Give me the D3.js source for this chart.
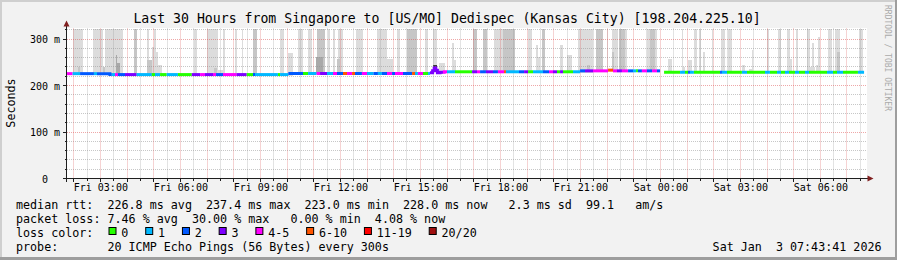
<!DOCTYPE html>
<html><head><meta charset="utf-8">
<script src="https://cdn.jsdelivr.net/npm/d3@7"></script>
<style>
html,body{margin:0;padding:0;background:#f2f2f2;}
svg{display:block;}
text{font-family:"DejaVu Sans Mono",monospace;fill:#000;}
</style></head><body>
<svg id="c" width="897" height="260"></svg>
<script>
// ---------------- DATA ----------------
const titleText = "Last 30 Hours from Singapore to [US/MO] Dedispec (Kansas City) [198.204.225.10]";
const yAxisTitle = "Seconds";
const sideText = "RRDTOOL / TOBI OETIKER";
const timeDomain = [1.75, 31.75];          // hours since Fri 00:00
const dataEnd = 31.64;
const yDomain = [0, 322.6];                // ms
const yMajorTicks = [0, 100, 200, 300];
const yTickLabels = ["  0", "100 m", "200 m", "300 m"];
const xLabelHours = [3, 6, 9, 12, 15, 18, 21, 24, 27, 30];
const xLabels = ["Fri 03:00","Fri 06:00","Fri 09:00","Fri 12:00","Fri 15:00","Fri 18:00","Fri 21:00","Sat 00:00","Sat 03:00","Sat 06:00"];
const lossLevels = [0, 1, 2, 3, 5, 10, 19, 20];
const lossNames = ["0", "1", "2", "3", "4-5", "6-10", "11-19", "20/20"];
const lossColors = ["#26ff00", "#00b8ff", "#0059ff", "#7e00ff", "#ff00ff", "#ff5500", "#ff0000", "#a01010"];
const smokeShades = ["#dcdcdc", "#c6c6c6", "#a9a9a9", "#3a3a3a"];

// median rtt level changes: [hour, ms]
const medianLevels = [[1.75,225.5],[3.36,223.5],[10.05,225.8],[15.36,227.5],[15.46,232],[15.52,237.4],[15.58,233],[15.64,227.5],[15.74,228.5],[15.90,229.5],[20.99,231.5],[22.04,233],[22.225,231.5],[24.14,228.5]];

// loss runs: [start hour, lost pings of 20] (null = no data)
const lossRuns = [[1.75,5],[1.96,1],[2.24,2],[2.76,1],[2.875,2],[3.43,1],[3.55,5],[3.66,2],[3.925,3],[4.36,1],[4.93,0],[5.05,1],[5.24,0],[5.49,1],[5.91,0],[6.43,3],[6.74,5],[6.925,3],[7.225,5],[7.34,2],[7.60,5],[8.11,3],[8.49,0],[8.725,2],[8.80,1],[9.66,0],[9.74,1],[10.05,2],[10.60,0],[10.79,1],[11.11,5],[11.24,3],[11.50,1],[11.725,5],[11.875,2],[12.10,8],[12.25,5],[12.44,8],[12.55,2],[12.81,5],[13.00,1],[13.24,2],[13.41,1],[13.56,2],[13.75,5],[13.94,2],[14.05,5],[14.35,2],[14.69,8],[14.80,1],[14.91,5],[15.10,0],[15.29,1],[15.36,3],[15.85,5],[16.00,1],[16.30,0],[16.94,3],[17.125,5],[17.24,2],[17.46,3],[17.725,2],[17.91,5],[18.14,8],[18.21,1],[18.70,2],[18.89,3],[19.04,0],[19.225,1],[19.60,2],[19.825,5],[19.975,3],[20.125,0],[20.24,3],[20.35,0],[20.725,1],[20.99,2],[21.175,3],[21.475,5],[22.04,8],[22.225,5],[22.375,3],[22.56,5],[22.79,2],[22.975,1],[23.09,0],[23.16,2],[23.31,5],[23.50,2],[23.69,5],[23.875,2],[23.99,null],[24.14,0],[24.74,1],[24.925,0],[25.04,2],[25.11,1],[25.26,0],[26.24,2],[26.31,1],[26.50,0],[27.06,1],[27.25,0],[27.925,1],[28.11,0],[28.375,1],[28.525,0],[28.675,1],[28.825,0],[29.05,1],[29.20,0],[29.425,1],[29.575,0],[30.25,1],[30.475,0],[30.625,1],[30.85,0],[31.41,1]];

// smoke bars: [start hour, end hour, top ms, shade]
const smokeBars = [
[1.96,2.34,400,0],[2.16,2.24,240,1],[2.74,3.11,400,0],[3.09,3.175,240,1],[3.175,3.86,400,0],[3.59,3.64,266,2],[3.64,3.74,249,2],
[4.26,4.39,400,1],[4.76,4.84,400,0],[4.76,4.93,255,1],[4.93,5.01,283,0],[5.01,5.09,400,0],[5.09,5.18,273,0],[5.18,5.30,244,0],
[6.51,6.64,400,0],[6.99,7.42,400,0],[7.26,7.36,238,1],[7.36,7.675,233,0],[7.61,7.675,400,0],[8.05,8.11,400,0],[8.30,8.36,400,0],[8.74,8.86,400,1],
[9.74,9.89,400,0],[10.04,10.225,269,0],[10.41,10.60,400,0],[10.79,10.94,400,0],[11.11,11.425,400,1],[11.09,11.35,262,2],[11.54,11.61,400,0],[11.725,11.80,400,0],
[11.875,11.99,258,1],[11.91,12.10,400,0],[12.59,12.85,400,0],[13.36,13.74,400,0],[13.74,13.99,258,0],[14.125,14.24,400,0],[14.49,14.86,400,1],
[15.175,15.29,400,0],[15.475,15.625,400,0],[15.46,15.62,244,3],[15.70,15.925,248,0],[16.18,16.26,291,0],[16.24,16.34,255,0],[16.96,17.11,400,1],[17.34,17.49,400,1],
[17.76,18.475,400,0],[18.09,18.55,400,1],[19.04,19.175,400,0],[19.34,19.41,287,0],[19.41,19.49,262,0],[19.55,19.675,400,1],[20.24,20.34,287,0],[20.49,20.675,266,0],
[20.91,21.475,400,0],[21.24,21.36,244,1],[21.575,21.86,400,1],[21.99,22.05,400,0],[22.175,22.425,400,0],[22.20,22.275,273,1],[22.46,22.675,400,1],[22.675,22.74,400,0],
[23.49,23.86,400,0],[23.61,23.80,400,1],[24.29,24.425,258,0],[24.80,24.86,400,0],[24.86,24.925,240,0],[25.04,25.19,255,0],[25.26,25.36,400,0],[25.45,25.525,400,0],
[25.59,25.675,273,0],[25.925,25.99,400,0],[26.29,26.425,400,0],[26.54,26.675,400,0],[27.05,27.175,244,0],[27.34,27.49,235,0],[27.425,27.49,276,0],[27.99,28.09,400,0],
[28.425,28.51,400,0],[28.74,28.86,400,0],[28.74,28.925,256,0],[29.09,29.175,400,0],[29.51,29.61,400,0],[29.51,29.80,240,0],[29.675,29.76,291,0],[29.84,29.925,244,0],
[29.925,29.99,305,0],[30.30,30.425,400,0],[30.55,30.64,400,0],[30.64,30.74,400,0],[30.64,30.74,273,1],[31.46,31.59,400,0]
];

const legendRtt = "median rtt:  226.8 ms avg  237.4 ms max  223.0 ms min  228.0 ms now   2.3 ms sd  99.1   am/s";
const legendLoss = "packet loss: 7.46 % avg  30.00 % max   0.00 % min  4.08 % now";
const legendColorLabel = "loss color:";
const legendProbe = "probe:       20 ICMP Echo Pings (56 Bytes) every 300s";
const stampText = "Sat Jan  3 07:43:41 2026";

// ---------------- DRAW ----------------
const W = 897, H = 260;
const X0 = 67, X1 = 867, YT = 28.5, YB = 178.5;
const svg = d3.select("#c");
const x = d3.scaleLinear().domain(timeDomain).range([X0, X1]);
const y = d3.scaleLinear().domain(yDomain).range([YB, YT]).clamp(true);

svg.append("rect").attr("width", W).attr("height", H).attr("fill", "#f2f2f2");
svg.append("rect").attr("x",0).attr("y",0).attr("width",W).attr("height",2).attr("fill","#cfcfcf");
svg.append("rect").attr("x",0).attr("y",0).attr("width",2).attr("height",H).attr("fill","#cfcfcf");
svg.append("rect").attr("x",0).attr("y",H-3).attr("width",W).attr("height",3).attr("fill","#9e9e9e");
svg.append("rect").attr("x",W-2).attr("y",0).attr("width",2).attr("height",H).attr("fill","#9e9e9e");

svg.append("rect").attr("x", X0).attr("y", YT - 0.5).attr("width", X1 - X0).attr("height", YB - YT + 0.5).attr("fill", "#fff");

function medianAt(t) {
  let v = medianLevels[0][1];
  for (const [h, m] of medianLevels) if (h <= t + 1e-9) v = m;
  return v;
}
function lossColor(l) {
  for (let i = 0; i < lossLevels.length; i++) if (l <= lossLevels[i]) return lossColors[i];
  return lossColors[lossColors.length - 1];
}

// smoke
const bars = smokeBars.slice().sort((a, b) => a[3] - b[3]);
svg.append("g").attr("shape-rendering", "crispEdges").selectAll("rect").data(bars).join("rect")
  .attr("x", d => x(d[0])).attr("width", d => Math.max(1, x(d[1]) - x(d[0])))
  .attr("y", d => y(d[2]))
  .attr("height", d => Math.max(0, y(medianAt(d[0]) - 2) - y(d[2])))
  .attr("fill", d => smokeShades[d[3]]);

// grid
const crisp = v => Math.floor(v) + 0.5;
const g = svg.append("g").attr("fill", "none").attr("stroke-dasharray", "1,1");
const minorX = d3.range(2, 31.76, 0.5).filter(h => h % 1 !== 0);
const majorX = d3.range(2, 31.76, 1);
const minorY = d3.range(20, 321, 20).filter(v => v % 100 !== 0);
const majorY = [100, 200, 300];
g.selectAll(".mx").data(minorX).join("line").attr("x1", d => crisp(x(d))).attr("x2", d => crisp(x(d)))
  .attr("y1", YT).attr("y2", YB).attr("stroke", "rgba(143,143,143,0.5)");
g.selectAll(".my").data(minorY).join("line").attr("y1", d => crisp(y(d))).attr("y2", d => crisp(y(d)))
  .attr("x1", X0).attr("x2", X1).attr("stroke", "rgba(143,143,143,0.5)");
g.selectAll(".Mx").data(majorX).join("line").attr("x1", d => crisp(x(d))).attr("x2", d => crisp(x(d)))
  .attr("y1", YT).attr("y2", YB).attr("stroke", "rgba(222,79,79,0.5)");
g.selectAll(".My").data(majorY).join("line").attr("y1", d => crisp(y(d))).attr("y2", d => crisp(y(d)))
  .attr("x1", X0).attr("x2", X1).attr("stroke", "rgba(222,79,79,0.5)");

// median line coloured by loss
const line = d3.line().x(d => x(d[0])).y(d => y(d[1])).curve(d3.curveStepAfter);
const lg = svg.append("g").attr("fill", "none").attr("stroke-width", 3);
lossRuns.forEach((r, i) => {
  if (r[1] === null) return;
  const t0 = r[0], t1 = i + 1 < lossRuns.length ? lossRuns[i + 1][0] : dataEnd;
  const pts = [[t0, medianAt(t0)]];
  medianLevels.forEach(([h, m]) => { if (h > t0 && h < t1) pts.push([h, m]); });
  pts.push([t1, medianAt(t1 - 1e-6)]);
  lg.append("path").attr("d", line(pts)).attr("stroke", lossColor(r[1]));
});

// axes
const ax = svg.append("g").attr("stroke", "#1f1f1f").attr("shape-rendering", "crispEdges");
ax.selectAll(".tx").data(minorX).join("line").attr("x1", d => crisp(x(d))).attr("x2", d => crisp(x(d))).attr("y1", YB).attr("y2", YB + 2);
ax.selectAll(".Tx").data(majorX).join("line").attr("x1", d => crisp(x(d))).attr("x2", d => crisp(x(d))).attr("y1", YB).attr("y2", YB + 3.5);
ax.selectAll(".ty").data(minorY).join("line").attr("y1", d => crisp(y(d))).attr("y2", d => crisp(y(d))).attr("x1", 64.5).attr("x2", 66.5);
ax.selectAll(".Ty").data(majorY).join("line").attr("y1", d => crisp(y(d))).attr("y2", d => crisp(y(d))).attr("x1", 62.5).attr("x2", 66.5);
ax.append("line").attr("x1", 62.5).attr("x2", 868).attr("y1", YB).attr("y2", YB);
ax.append("line").attr("x1", 66.5).attr("x2", 66.5).attr("y1", 182).attr("y2", 26);
svg.append("path").attr("d", "M63.5,26.5L69.5,26.5L66.5,20.5Z").attr("fill", "#801f1f");
svg.append("path").attr("d", "M867.5,175.5L867.5,181.5L873.5,178.5Z").attr("fill", "#801f1f");

// tick labels via d3 axes
const xa = svg.append("g").attr("transform", `translate(0,${YB})`)
  .call(d3.axisBottom(x).tickValues(xLabelHours).tickFormat((d, i) => xLabels[i]).tickSize(0));
xa.select(".domain").remove();
xa.selectAll("text").attr("y", 12).attr("dy", null).style("font-size", "10px")
  .style("font-family", '"DejaVu Sans Mono",monospace').attr("fill", "#000");

const ya = svg.append("g").call(d3.axisLeft(y).tickValues(yMajorTicks).tickFormat((d, i) => yTickLabels[i]).tickSize(0));
ya.select(".domain").remove();
ya.selectAll("text").attr("x", 30).attr("dy", "0.35em").attr("text-anchor", "start")
  .attr("xml:space", "preserve").style("white-space", "pre").style("font-size", "10px")
  .style("font-family", '"DejaVu Sans Mono",monospace').attr("fill", "#000");

// titles
svg.append("text").attr("x", 447).attr("y", 23).attr("text-anchor", "middle").style("font-size", "13.2px").text(titleText);
svg.append("text").attr("transform", "translate(14.5,103) rotate(-90)").attr("text-anchor", "middle").style("font-size", "11.7px").text(yAxisTitle);
svg.append("text").attr("transform", "translate(884.5,5) rotate(90)").style("font-size", "8px").attr("fill", "#aaaaaa").style("fill", "#aaaaaa").text(sideText);

// legend
const lt = (s, yy) => svg.append("text").attr("x", 16).attr("y", yy).attr("xml:space", "preserve")
  .style("white-space", "pre").style("font-size", "11.7px").text(s);
lt(legendRtt, 208.5);
lt(legendLoss, 222.5);
lt(legendColorLabel, 236.5);
lt(legendProbe, 250.7);
svg.append("text").attr("x", 881.5).attr("y", 250.7).attr("text-anchor", "end").attr("xml:space", "preserve")
  .style("white-space", "pre").style("font-size", "11.7px").text(stampText);

let bx = 108.5;
lossNames.forEach((n, i) => {
  svg.append("rect").attr("x", bx + 0.5).attr("y", 227.5).attr("width", 7).attr("height", 7)
    .attr("fill", lossColors[i]).attr("stroke", "#000").attr("stroke-width", 1);
  svg.append("text").attr("x", bx + 12.8).attr("y", 236.5).style("font-size", "11.7px").text(n);
  bx += 7.02 * n.length + 29.7;
});
</script>
</body></html>
